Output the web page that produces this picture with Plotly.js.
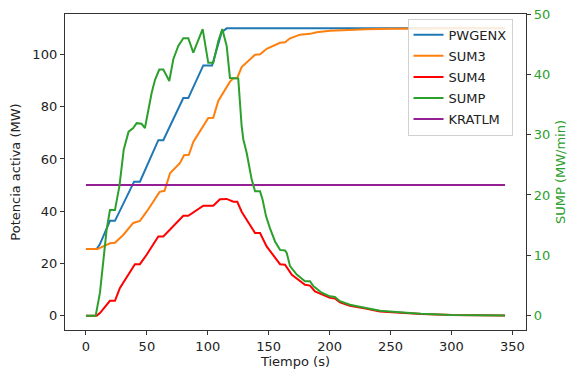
<!DOCTYPE html>
<html>
<head>
<meta charset="utf-8">
<script src="https://cdn.plot.ly/plotly-3.0.1.min.js"></script>
<style>html,body{margin:0;padding:0;background:#fff;}#chart{width:570px;height:375px;}</style>
</head>
<body>
<div id="chart"></div>
<script>
// ---- data ----
const tPWGENX = [0, 8.8, 11.5, 19.7, 23.8, 39.5, 44.3, 59.4, 63.5, 79.9, 84, 96.3, 103.5, 111.4, 115.5, 344];
const PWGENX  = [25.5, 25.5, 27.4, 36.3, 36.3, 51.3, 51.3, 67.2, 67.2, 83.3, 83.3, 95.8, 95.8, 108.5, 110, 110];

const tSUM3 = [0, 9.5, 14.2, 19.7, 23.8, 30.6, 38.8, 44.3, 49.8, 60.5, 64.5, 69, 77.2, 80.5, 84.5, 88.1, 100.4, 104.5, 108.6, 118.2, 121, 124.2, 127.8, 138.8, 143, 148.3, 159.3, 163.4, 167.5, 175.7, 183.9, 189.4, 200.3, 215, 230, 250, 270, 300, 344];
const SUM3  = [25.5, 25.5, 26.5, 27.7, 27.9, 30.9, 35.5, 36.3, 39.8, 47.4, 47.8, 54.5, 58.5, 61.4, 61.6, 66.5, 75.7, 75.8, 82.2, 89.6, 90.9, 91.0, 95.2, 99.9, 100.1, 102.2, 104.5, 104.7, 106.2, 107.6, 107.9, 108.5, 109.1, 109.5, 109.7, 109.85, 109.95, 110, 110];

const tSUM4 = [0, 8.8, 11.5, 19.7, 23.8, 27.9, 40.2, 44.3, 49.8, 59.4, 63.5, 79.9, 84, 96.3, 104.5, 110, 115.5, 121, 124.2, 127.8, 138.8, 142.9, 148.3, 159.3, 163.4, 169, 179.8, 183.9, 188, 200.3, 204.4, 208.5, 216.7, 223.6, 230.5, 241.4, 257.8, 275, 300, 344];
const SUM4  = [0, 0, 1, 5.7, 5.7, 10.6, 19.7, 19.7, 23.3, 30.3, 30.3, 38.2, 38.2, 42.1, 42.1, 44.6, 44.7, 43.6, 43.6, 39.8, 31.6, 31.6, 26.5, 19.7, 19.5, 15.6, 11.8, 11.5, 9.3, 6.8, 6.6, 5.1, 3.8, 3.3, 2.6, 1.6, 1.1, 0.6, 0.2, 0.05];

const tSUMP = [0, 8, 11.5, 17, 19.7, 23.8, 27.5, 31, 35, 38.8, 41.6, 45.7, 48.4, 51.2, 53.9, 56.7, 60.2, 63.5, 68.4, 71.7, 75.8, 79.9, 84, 88.1, 95.8, 100.4, 104.5, 108.6, 111.9, 115.5, 118.2, 125, 127.8, 129.2, 131.9, 136, 138.8, 142.9, 145, 147.8, 151, 155.2, 159.3, 163.4, 164.8, 167.5, 173, 179.8, 183.9, 186.6, 193.5, 200.3, 204.4, 208.5, 216.7, 223.6, 230.5, 241.4, 257.8, 275, 300, 344];
const SUMP  = [0, 0, 3.8, 14.3, 17.5, 17.5, 21.5, 27.5, 30.5, 31.1, 31.9, 31.8, 31.1, 34.2, 36.9, 39.1, 40.8, 40.8, 38.9, 42.5, 44.7, 46.0, 46.0, 43.6, 47.5, 41.9, 41.9, 45.5, 47.5, 44.7, 39.4, 39.3, 31.4, 29.2, 27.0, 22.6, 20.6, 20.6, 19.2, 16.5, 14.5, 12.3, 10.9, 10.8, 10.4, 8.2, 6.8, 5.7, 5.7, 4.9, 3.8, 3.2, 3.1, 2.4, 1.8, 1.5, 1.2, 0.8, 0.55, 0.3, 0.12, 0.02];

const tKRATLM = [0, 344];
const KRATLM  = [50, 50];

const xTicks = [0, 50, 100, 150, 200, 250, 300, 350];
const yTicks = [0, 20, 40, 60, 80, 100];
const y2Ticks = [0, 10, 20, 30, 40, 50];

// ---- chart ----
const FONT = 'DejaVu Sans, sans-serif';
const GREEN = '#2ca02c';
const lw = 2;
const traces = [
  {x: tPWGENX, y: PWGENX, name: 'PWGENX', legendgroup: 'a', mode: 'lines', line: {color: '#1f77b4', width: lw}},
  {x: tSUM3, y: SUM3, name: 'SUM3', legendgroup: 'b', mode: 'lines', line: {color: '#ff7f0e', width: lw}},
  {x: tSUM4, y: SUM4, name: 'SUM4', legendgroup: 'c', mode: 'lines', line: {color: '#ff0000', width: lw}},
  {x: tSUMP, y: SUMP, name: 'SUMP', legendgroup: 'd', mode: 'lines', yaxis: 'y2', line: {color: GREEN, width: lw}},
  {x: tKRATLM, y: KRATLM, name: 'KRATLM', legendgroup: 'e', mode: 'lines', line: {color: '#931f93', width: lw}}
];

const axisCommon = {
  showgrid: false, zeroline: false, showline: true, linecolor: '#333', linewidth: 1.2,
  ticks: 'outside', ticklen: 4, tickwidth: 1, tickcolor: '#333',
  tickfont: {family: FONT, size: 13, color: '#222'}
};

const layout = {
  width: 570, height: 375,
  margin: {l: 65, r: 44, t: 14, b: 45},
  paper_bgcolor: '#fff', plot_bgcolor: '#fff',
  font: {family: FONT, size: 13, color: '#222'},
  xaxis: Object.assign({}, axisCommon, {
    range: [-17.2, 361.2], tickvals: xTicks, mirror: true,
    title: {text: 'Tiempo (s)', font: {family: FONT, size: 13, color: '#222'}, standoff: 4}
  }),
  yaxis: Object.assign({}, axisCommon, {
    range: [-5.5, 115.5], tickvals: yTicks, mirror: true,
    title: {text: 'Potencia activa (MW)', font: {family: FONT, size: 13, color: '#222'}, standoff: 8}
  }),
  yaxis2: Object.assign({}, axisCommon, {
    overlaying: 'y', side: 'right', range: [-2.38, 50], tickvals: y2Ticks,
    tickfont: {family: FONT, size: 13, color: GREEN},
    title: {text: 'SUMP (MW/min)', font: {family: FONT, size: 13, color: GREEN}, standoff: 6}
  }),
  showlegend: true,
  legend: {
    x: 0.743, y: 0.985, xanchor: 'left', yanchor: 'top',
    tracegroupgap: 1.2,
    bgcolor: 'rgba(255,255,255,0.85)', bordercolor: '#d0d0d0', borderwidth: 1,
    font: {family: FONT, size: 13, color: '#222'}
  }
};

Plotly.newPlot('chart', traces, layout, {displayModeBar: false, staticPlot: true});
</script>
</body>
</html>
